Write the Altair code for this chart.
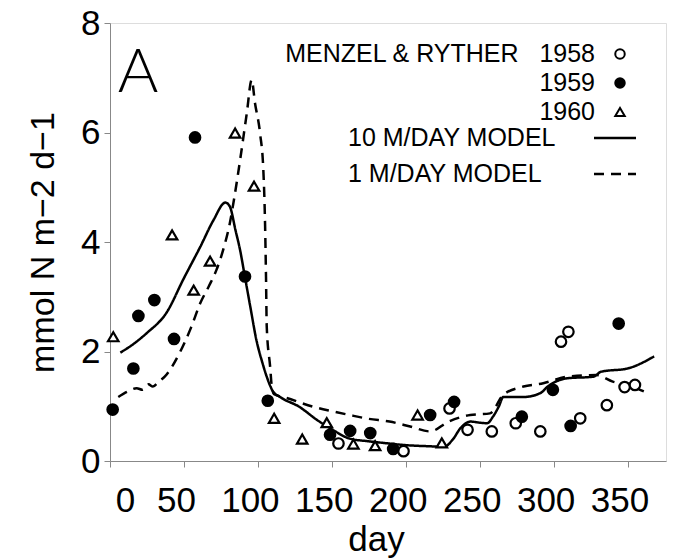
import altair as alt
import pandas as pd

# ---- data ----
day_1958 = [154.5, 198.5, 229.6, 241.8, 258.2, 274.4, 291, 305, 310, 318, 336, 348, 355]
val_1958 = [0.32, 0.18, 0.96, 0.57, 0.54, 0.69, 0.54, 2.18, 2.36, 0.78, 1.02, 1.35, 1.39]

day_1959 = [1.8, 15.8, 19.2, 30, 43.3, 57.5, 91.3, 106.7, 148.8, 162.4, 176, 191.5, 216.5,
            232.7, 278.5, 299.5, 311.5, 344]
val_1959 = [0.94, 1.69, 2.65, 2.94, 2.23, 5.91, 3.37, 1.10, 0.48, 0.55, 0.51, 0.22, 0.84,
            1.08, 0.81, 1.30, 0.64, 2.51]

day_1960 = [2.2, 42, 56.6, 67.7, 84.6, 97.4, 111, 130, 146.6, 164.6, 179.3, 208, 224.4]
val_1960 = [2.27, 4.13, 3.12, 3.65, 5.99, 5.02, 0.78, 0.40, 0.70, 0.31, 0.28, 0.84, 0.33]

m10_day = [7, 15, 25, 38, 50, 61, 70, 78, 81, 85, 88, 91, 95, 99, 103, 106, 110, 115, 128,
           140, 150, 162, 175, 185, 200, 215, 226, 232, 237, 244, 250, 255, 259, 263, 266,
           280, 291, 296, 309, 327, 332, 350, 368]
m10_val = [1.98, 2.12, 2.34, 2.70, 3.34, 3.91, 4.40, 4.72, 4.65, 4.20, 3.85, 3.40, 2.80,
           2.21, 1.80, 1.54, 1.28, 1.17, 0.99, 0.75, 0.58, 0.41, 0.36, 0.33, 0.29, 0.27,
           0.26, 0.40, 0.60, 0.72, 0.70, 0.69, 0.81, 1.00, 1.17, 1.17, 1.24, 1.36, 1.51,
           1.54, 1.63, 1.69, 1.91]

m1_day = [5.6, 12, 18, 22, 26, 29, 33, 37, 47, 55, 61, 67, 72, 77, 81, 84, 88, 92.5, 95.8,
          98.1, 101.5, 103.7, 104.9, 105.5, 106, 108.3, 109.4, 111, 119.5, 137.6, 150, 162,
          175, 189, 203, 216.5, 229, 243.6, 257, 266, 279.6, 293, 309, 329, 340, 350, 361]
m1_val = [1.17, 1.27, 1.33, 1.30, 1.40, 1.36, 1.45, 1.54, 1.97, 2.45, 2.88, 3.20, 3.49,
          3.90, 4.34, 4.80, 5.50, 6.35, 6.96, 6.53, 5.98, 5.31, 4.28, 3.37, 2.45, 1.72,
          1.36, 1.22, 1.15, 0.99, 0.91, 0.84, 0.77, 0.72, 0.63, 0.54, 0.72, 0.84, 0.87,
          1.21, 1.36, 1.42, 1.54, 1.57, 1.45, 1.39, 1.27]

years = ["1958", "1959", "1960"]
models = ["10 M/DAY MODEL", "1 M/DAY MODEL"]
x_ticks = [0, 50, 100, 150, 200, 250, 300, 350]
y_ticks = [0, 2, 4, 6, 8]

pts = pd.concat([
    pd.DataFrame({"day": day_1958, "val": val_1958, "series": years[0]}),
    pd.DataFrame({"day": day_1959, "val": val_1959, "series": years[1]}),
    pd.DataFrame({"day": day_1960, "val": val_1960, "series": years[2]}),
])
lines = pd.concat([
    pd.DataFrame({"day": m10_day, "val": m10_val, "model": models[0]}),
    pd.DataFrame({"day": m1_day, "val": m1_val, "model": models[1]}),
])

FONT = "Liberation Sans"
LEG_FS = 25

xenc = alt.X(
    "day:Q",
    scale=alt.Scale(domain=[0, 376], nice=False, zero=False),
    axis=alt.Axis(
        values=x_ticks, title="day", labelFontSize=35, titleFontSize=35, grid=False,
        labelFont=FONT, titleFont=FONT, titleFontWeight="normal",
        labelPadding=16, tickSize=6, labelFlush=False,
        labelOffset={"condition": {"test": "datum.value == 0", "value": 15}, "value": -8},
        titleX=266, titleY=89, titleBaseline="alphabetic", titleAlign="center",
    ),
)
yenc = alt.Y(
    "val:Q",
    scale=alt.Scale(domain=[0, 8], nice=False),
    axis=alt.Axis(
        values=y_ticks, title="mmol N m\u22122 d\u22121", labelFontSize=35, titleFontSize=34,
        labelFont=FONT, titleFont=FONT, titleFontWeight="normal", grid=False,
        labelPadding=4, tickSize=6, labelFlush=False,
        titleX=-57, titleY=219, titleAngle=-90, titleBaseline="alphabetic",
        titleAlign="center",
    ),
)

line_layer = alt.Chart(lines).mark_line(
    color="black", strokeWidth=2.5, interpolate="monotone"
).encode(
    x=xenc, y=yenc,
    strokeDash=alt.StrokeDash(
        "model:N",
        scale=alt.Scale(domain=models, range=[[1, 0], [10, 7]]),
        legend=alt.Legend(
            title=None, orient="none", legendX=238, legendY=102.5,
            labelFontSize=LEG_FS, labelFont=FONT, labelColor="black", labelLimit=0,
            symbolType="M-2,0L2,0", symbolSize=441, symbolStrokeWidth=2.5,
            symbolStrokeColor="black", labelOffset={"expr": "-279.5"}, symbolOffset=254.5,
            rowPadding=10, padding=0,
        ),
    ),
)

legend_a = alt.Legend(
    title=None, orient="none", legendX=480, legendY=18.5,
    labelFontSize=LEG_FS, labelFont=FONT, labelColor="black", labelAlign="right",
    labelLimit=0,
    labelExpr="datum.label == '1958' ? 'MENZEL & RYTHER \u00a0\u00a01958' : datum.label",
    symbolSize=90, symbolStrokeWidth=2, symbolStrokeColor="black", symbolOpacity=1,
    labelOffset={"expr": "-37.5"}, symbolOffset=17.5, rowPadding=3, padding=0,
)

point_layer = alt.Chart(pts).mark_point(
    size=110, strokeWidth=2.2, filled=True, opacity=1
).encode(
    x=xenc, y=yenc,
    shape=alt.Shape(
        "series:N",
        scale=alt.Scale(domain=years, range=["circle", "circle", "triangle-up"]),
        legend=legend_a,
    ),
    fill=alt.Fill(
        "series:N",
        scale=alt.Scale(domain=years, range=["white", "black", "white"]),
        legend=legend_a,
    ),
    stroke=alt.Stroke(
        "series:N",
        scale=alt.Scale(domain=years, range=["black", "black", "black"]),
        legend=legend_a,
    ),
)

label_df = pd.DataFrame({"label": ["A"]})
panel = alt.Chart(label_df).mark_text(
    font="Lato", fontWeight=300, fontSize=62, color="black", align="center",
    baseline="alphabetic",
).encode(text="label:N", x=alt.value(28), y=alt.value(69))

chart = alt.layer(line_layer, point_layer, panel).properties(
    width=556, height=438,
    autosize=alt.AutoSizeParams(type="none"),
    padding={"left": 110, "top": 23, "right": 13, "bottom": 97},
).configure_view(
    stroke="black", strokeWidth=2.5
).configure_axis(
    grid=False, domainColor="black", domainWidth=2.5, tickColor="black", tickWidth=2.5,
    labelColor="black", titleColor="black",
).configure(background="white")

chart.save("out.html", embed_options={"renderer": "svg", "actions": False})
